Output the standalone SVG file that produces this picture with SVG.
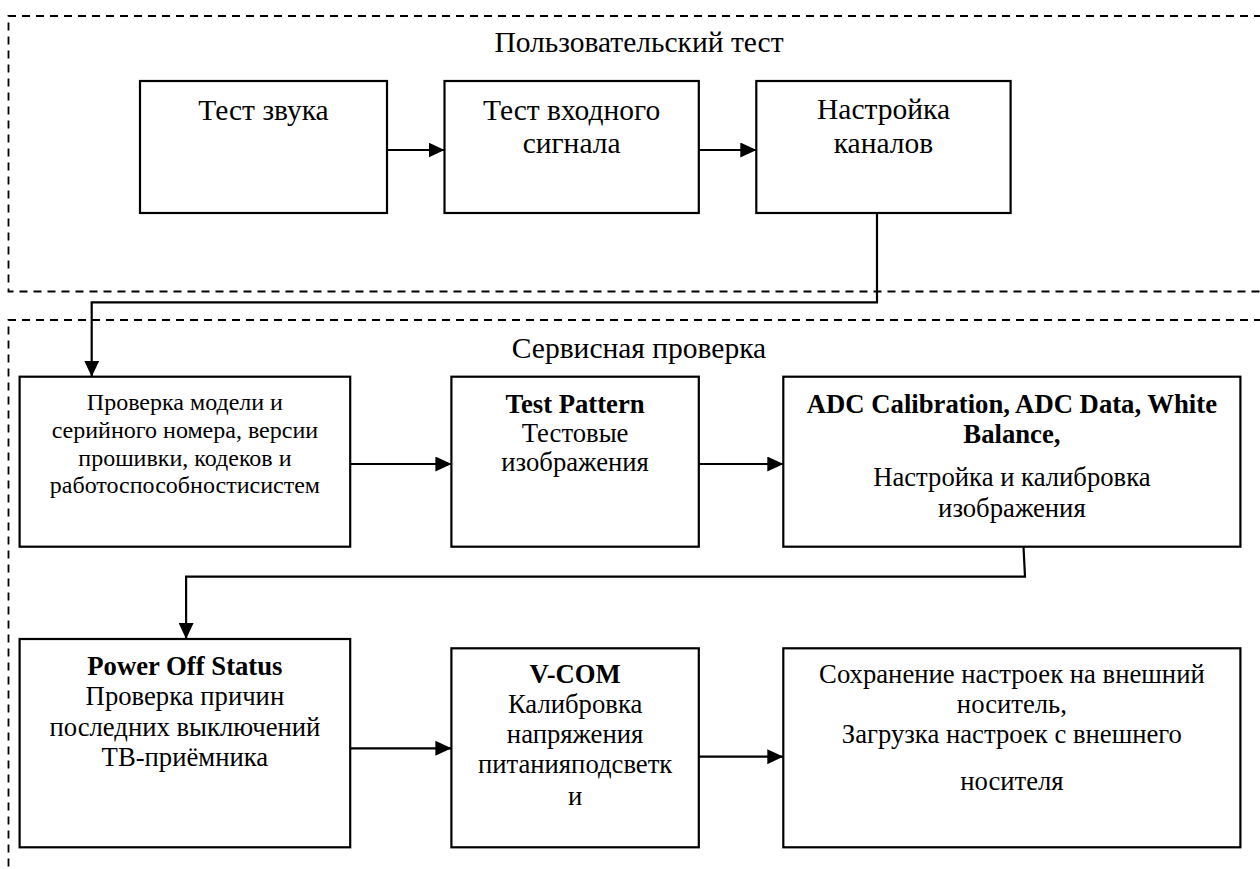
<svg xmlns="http://www.w3.org/2000/svg" width="1260" height="869" viewBox="0 0 1260 869" font-family="'Liberation Serif', 'Times New Roman', Times, serif">
<defs>
<marker id="ah" markerWidth="16" markerHeight="15" refX="16" refY="7.5" orient="auto" markerUnits="userSpaceOnUse"><path d="M0,0 L16,7.5 L0,15 Z" fill="#000"/></marker>
<style>
.box{fill:#fff;stroke:#000;stroke-width:2.2}
.grp{fill:none;stroke:#000;stroke-width:1.8;stroke-dasharray:8 6}
.conn{fill:none;stroke:#000;stroke-width:2.2}
text{font-family:'Liberation Serif','Times New Roman',Times,serif;fill:#000;text-anchor:middle}
.t28{font-size:29.5px}
.t26{font-size:26.7px}
.t22{font-size:24px}
.b{font-weight:bold}
</style>
</defs>
<rect width="1260" height="869" fill="#fff"/>
<g id="group-user">
<path class="grp" d="M1262,16 H8.5 V291.5 H1262"/>
<text class="t28" x="639" y="52">Пользовательский тест</text>
</g>
<g id="group-service">
<path class="grp" d="M1262,320 H8.5 V870"/>
<text class="t28" x="639" y="358">Сервисная проверка</text>
</g>
<g id="connectors">
<path class="conn" d="M387,150 H444.5" marker-end="url(#ah)"/>
<path class="conn" d="M698.8,150 H756.3" marker-end="url(#ah)"/>
<path class="conn" d="M877,213 V302.3 H91.7 V376.7" marker-end="url(#ah)"/>
<path class="conn" d="M350.2,464 H451.4" marker-end="url(#ah)"/>
<path class="conn" d="M698.8,464 H783.3" marker-end="url(#ah)"/>
<path class="conn" d="M1023.5,546.7 L1025,576.7 H186.1 V639" marker-end="url(#ah)"/>
<path class="conn" d="M350.2,748.3 H451.4" marker-end="url(#ah)"/>
<path class="conn" d="M698.8,756.7 H783.3" marker-end="url(#ah)"/>
</g>
<g id="n-sound">
<rect class="box" x="140" y="81" width="247" height="132"/>
<text class="t28" x="263.5" y="120">Тест звука</text>
</g>
<g id="n-input">
<rect class="box" x="444.5" y="81" width="254.3" height="132"/>
<text class="t28" x="571.6" y="120">Тест входного</text>
<text class="t28" x="571.6" y="153">сигнала</text>
</g>
<g id="n-channels">
<rect class="box" x="756.3" y="81" width="254.3" height="132"/>
<text class="t28" x="883.5" y="119">Настройка</text>
<text class="t28" x="883.5" y="153">каналов</text>
</g>
<g id="n-model">
<rect class="box" x="19.6" y="376.7" width="330.6" height="170"/>
<text class="t22" x="184.9" y="410">Проверка модели и</text>
<text class="t22" x="184.9" y="437.7">серийного номера, версии</text>
<text class="t22" x="184.9" y="465.7">прошивки, кодеков и</text>
<text class="t22" x="184.9" y="493.3">работоспособностисистем</text>
</g>
<g id="n-pattern">
<rect class="box" x="451.4" y="376.7" width="247.4" height="170"/>
<text class="t26 b" x="575.1" y="413.3">Test Pattern</text>
<text class="t26" x="575.1" y="442">Тестовые</text>
<text class="t26" x="575.1" y="471">изображения</text>
</g>
<g id="n-adc">
<rect class="box" x="783.3" y="376.7" width="457.1" height="170"/>
<text class="t26 b" x="1011.9" y="413.3">ADC Calibration, ADC Data, White</text>
<text class="t26 b" x="1011.9" y="443.3">Balance,</text>
<text class="t26" x="1011.9" y="486">Настройка и калибровка</text>
<text class="t26" x="1011.9" y="516.7">изображения</text>
</g>
<g id="n-power">
<rect class="box" x="19.6" y="639" width="330.6" height="208.3"/>
<text class="t26 b" x="184.9" y="675">Power Off Status</text>
<text class="t26" x="184.9" y="705">Проверка причин</text>
<text class="t26" x="184.9" y="736">последних выключений</text>
<text class="t26" x="184.9" y="766">ТВ-приёмника</text>
</g>
<g id="n-vcom">
<rect class="box" x="451.4" y="648.3" width="247.4" height="199"/>
<text class="t26 b" x="575.1" y="683.3">V-COM</text>
<text class="t26" x="575.1" y="713.3">Калибровка</text>
<text class="t26" x="575.1" y="743.3">напряжения</text>
<text class="t26" x="575.1" y="773.3">питанияподсветк</text>
<text class="t26" x="575.1" y="805">и</text>
</g>
<g id="n-save">
<rect class="box" x="783.3" y="648.3" width="457.1" height="199"/>
<text class="t26" x="1011.9" y="683.3">Сохранение настроек на внешний</text>
<text class="t26" x="1011.9" y="713.3">носитель,</text>
<text class="t26" x="1011.9" y="743.3">Загрузка настроек с внешнего</text>
<text class="t26" x="1011.9" y="790">носителя</text>
</g>
</svg>
